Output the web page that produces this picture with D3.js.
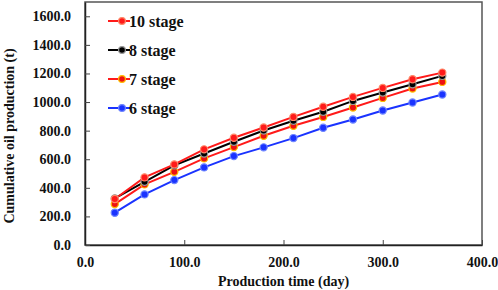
<!DOCTYPE html>
<html>
<head>
<meta charset="utf-8">
<script src="https://cdn.jsdelivr.net/npm/d3@7"></script>
<style>
  body { margin: 0; background: #fff; }
  text { font-family: "Liberation Serif", "Times New Roman", serif; font-weight: bold; fill: #111; }
</style>
</head>
<body>
<div id="chart"></div>
<script>
// production time (day)
const days = [30, 60, 90, 120, 150, 180, 210, 240, 270, 300, 330, 360];
const stage10 = [322, 473, 564, 669, 750, 822, 896, 967, 1036, 1099, 1160, 1206];
const stage8 = [326, 442, 557, 640, 722, 801, 869, 932, 1008, 1067, 1125, 1183];
const stage7 = [286, 424, 512, 606, 685, 764, 834, 896, 962, 1029, 1095, 1141];
const stage6 = [226, 354, 454, 543, 622, 683, 748, 820, 878, 941, 997, 1053];
const seriesNames = ["10 stage", "8 stage", "7 stage", "6 stage"];
const xTicks = [0, 100, 200, 300, 400];
const yTicks = [0, 200, 400, 600, 800, 1000, 1200, 1400, 1600];

const series = [
  {name: seriesNames[0], values: stage10, line: "#ff1a1a", fill: "#ff1a1a", edge: "#ff8a6a"},
  {name: seriesNames[1], values: stage8, line: "#000000", fill: "#000000", edge: "#9a9a9a"},
  {name: seriesNames[2], values: stage7, line: "#ff1a1a", fill: "#ee1111", edge: "#ffc000"},
  {name: seriesNames[3], values: stage6, line: "#1a33ff", fill: "#1a33ff", edge: "#6f86ff"}
];

const margin = {top: 2, right: 16, bottom: 45, left: 85},
    width = 498 - margin.left - margin.right,
    height = 290 - margin.top - margin.bottom;

const svg = d3.select("#chart")
  .append("svg")
    .attr("width", 498)
    .attr("height", 290)
  .append("g")
    .attr("transform", `translate(${margin.left}, ${margin.top})`);

const x = d3.scaleLinear().domain([0, 400]).range([0, width]);
const y = d3.scaleLinear().domain([0, 1700]).range([height, 0]);

// frame
svg.append("rect")
  .attr("width", width)
  .attr("height", height)
  .attr("fill", "none")
  .attr("stroke", "#555")
  .attr("stroke-width", 1.5);

// axes (ticks inside)
const xAxis = svg.append("g")
  .attr("transform", `translate(0, ${height})`)
  .call(d3.axisBottom(x).tickValues(xTicks).tickFormat(d3.format(".1f")).tickSizeInner(-5).tickSizeOuter(0).tickPadding(12));
const yAxis = svg.append("g")
  .call(d3.axisLeft(y).tickValues(yTicks).tickFormat(d3.format(".1f")).tickSizeInner(-5).tickSizeOuter(0).tickPadding(14));

[xAxis, yAxis].forEach(a => {
  a.select(".domain").attr("stroke", "#222").attr("stroke-width", 1.5);
  a.selectAll(".tick line").attr("stroke", "#444");
  a.selectAll(".tick text").style("font-size", "14px").attr("fill", "#111");
});

// axis titles
svg.append("text")
  .attr("x", width / 2)
  .attr("y", height + 41)
  .style("text-anchor", "middle")
  .style("font-size", "14px")
  .text("Production time (day)");

svg.append("text")
  .attr("transform", "rotate(-90)")
  .attr("x", -134)
  .attr("y", -71)
  .style("text-anchor", "middle")
  .style("font-size", "14px")
  .text("Cumulative oil production (t)");

// lines
const line = d3.line()
  .x((d, i) => x(days[i]))
  .y(d => y(d));

// draw in reverse so 10 stage sits on top
const drawOrder = series.slice().reverse();

svg.selectAll(".series-line")
  .data(drawOrder)
  .join("path")
    .attr("class", "series-line")
    .attr("d", d => line(d.values))
    .attr("fill", "none")
    .attr("stroke", d => d.line)
    .attr("stroke-width", 2);

svg.selectAll(".series-dots")
  .data(drawOrder)
  .join("g")
    .attr("class", "series-dots")
  .selectAll("circle")
  .data(d => d.values.map((v, i) => ({v, i, s: d})))
  .join("circle")
    .attr("cx", d => x(days[d.i]))
    .attr("cy", d => y(d.v))
    .attr("r", 3.6)
    .attr("fill", d => d.s.fill)
    .attr("stroke", d => d.s.edge)
    .attr("stroke-width", 1.2);

// legend
const legend = svg.selectAll(".legend")
  .data(series)
  .join("g")
    .attr("class", "legend")
    .attr("transform", (d, i) => `translate(23, ${19 + i * 29})`);

legend.append("line")
  .attr("x1", 0).attr("x2", 22)
  .attr("stroke", d => d.line)
  .attr("stroke-width", 2);

legend.append("circle")
  .attr("cx", 14)
  .attr("r", 3.4)
  .attr("fill", d => d.fill)
  .attr("stroke", d => d.edge)
  .attr("stroke-width", 1.2);

legend.append("text")
  .attr("x", 21)
  .attr("dy", "0.35em")
  .style("font-size", "16px")
  .text(d => d.name);
</script>
</body>
</html>
